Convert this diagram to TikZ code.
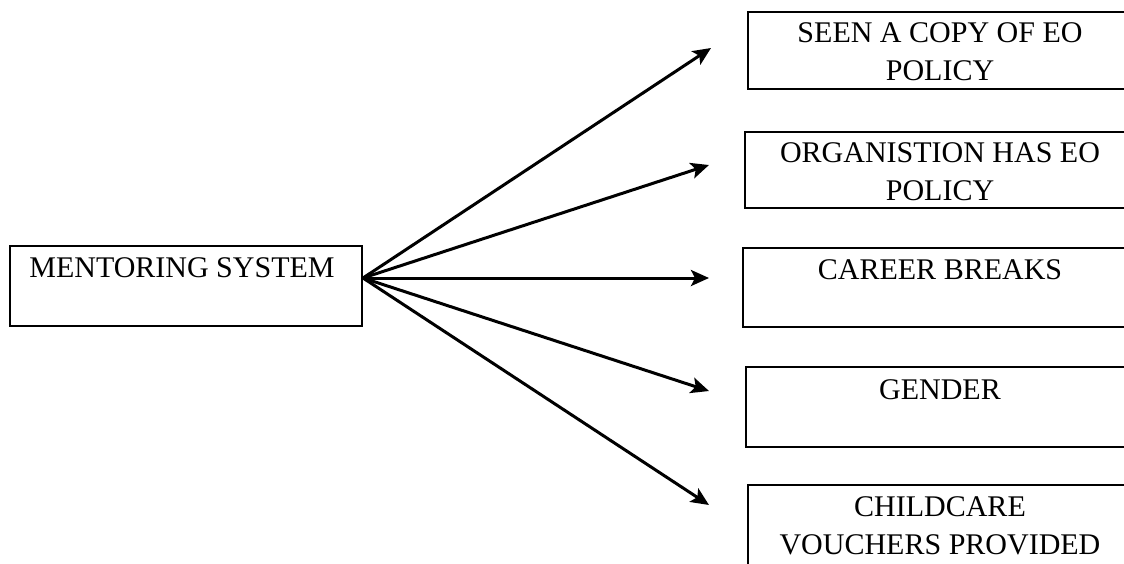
\documentclass[tikz,border=0pt]{standalone}
\usepackage{fontspec}
\setmainfont{Liberation Serif}
\usetikzlibrary{arrows.meta}

\tikzset{
  box/.style={draw=black, line width=2.6pt, rectangle, inner sep=0pt},
  lbl/.style={anchor=north, inner sep=0pt, align=center,
              font=\fontsize{30}{38}\selectfont},
  link/.style={line width=3pt, -{Stealth[length=18pt, width=16pt, inset=4pt]}}
}

\begin{document}
\begin{tikzpicture}[x=1pt, y=-1pt]
  \useasboundingbox (0,0) rectangle (1124,563);
  \clip (0,0) rectangle (1124,563);

  % source box
  \node[box, minimum width=352pt, minimum height=80pt] (ms) at (186,286) {};
  \node[lbl] (msl) at (182,257.5) {MENTORING SYSTEM};

  % target boxes (their right edges run off the page)
  \node[box, minimum width=384pt, minimum height=77pt] (b1) at (940,50.5) {};
  \node[box, minimum width=390pt, minimum height=76pt] (b2) at (940,170) {};
  \node[box, minimum width=394pt, minimum height=79pt] (b3) at (940,287.5) {};
  \node[box, minimum width=388pt, minimum height=80pt] (b4) at (940,407) {};
  \node[box, minimum width=384pt, minimum height=80pt] (b5) at (940,525) {};

  \node[lbl] (l1) at (940,22.5) {SEEN A COPY OF EO\\POLICY};
  \node[lbl] (l2) at (940,142) {ORGANISTION HAS EO\\POLICY};
  \node[lbl] (l3) at (940,259.5) {CAREER BREAKS};
  \node[lbl] (l4) at (940,379.5) {GENDER};
  \node[lbl] (l5) at (940,496.5) {CHILDCARE\\VOUCHERS PROVIDED};

  % fan of arrows from one point on the source box
  \coordinate (hub) at (363,278);
  \coordinate (t1) at (711,48);
  \coordinate (t2) at (709,165);
  \coordinate (t3) at (709,278);
  \coordinate (t4) at (709,391);
  \coordinate (t5) at (709,505);

  \foreach \t in {t1,t2,t3,t4,t5}
    \draw[link] (hub) -- (\t);
\end{tikzpicture}
\end{document}
